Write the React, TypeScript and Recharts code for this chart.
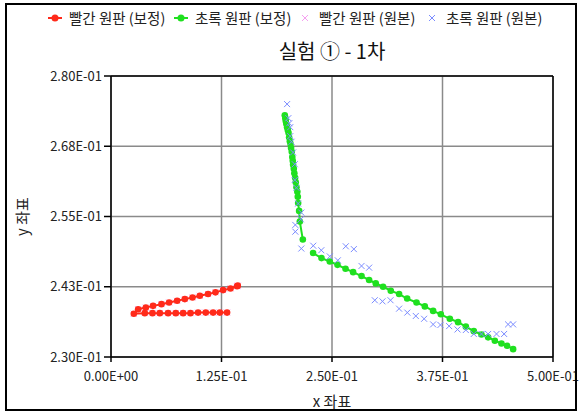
import React from 'react';
import { CartesianGrid, ReferenceLine, Scatter, ScatterChart, XAxis, YAxis } from 'recharts';

// 빨간 원판 (보정): lower row right->left, then upper row left->right
const redX = [0.1313, 0.1231, 0.1155, 0.1072, 0.0985, 0.0899, 0.0816, 0.0733, 0.0646, 0.0552, 0.0469, 0.0382, 0.0258,
  0.0307, 0.0394, 0.0476, 0.0571, 0.0657, 0.0748, 0.0835, 0.0922, 0.1005, 0.1098, 0.1182, 0.1268, 0.1352, 0.1426, 0.1434];
const redY = [0.2379, 0.2379, 0.2379, 0.2379, 0.2379, 0.2378, 0.2378, 0.2378, 0.2378, 0.2378, 0.2378, 0.2378, 0.2377,
  0.2385, 0.2388, 0.2391, 0.2394, 0.2397, 0.2400, 0.2403, 0.2406, 0.2409, 0.2412, 0.2415, 0.2419, 0.2422, 0.2426, 0.2427];

// 초록 원판 (보정): steep upper segment, then the long falling segment
const greenUpperX = [0.1966, 0.1972, 0.1977, 0.1983, 0.1992, 0.2000, 0.2008, 0.2015, 0.2023, 0.2031, 0.2037, 0.2045, 0.2051,
  0.2056, 0.2060, 0.2068, 0.2074, 0.2083, 0.2090, 0.2098, 0.2108, 0.2113, 0.2117, 0.2128, 0.2136, 0.2170];
const greenUpperY = [0.2730, 0.2725, 0.2720, 0.2715, 0.2709, 0.2704, 0.2699, 0.2691, 0.2684, 0.2679, 0.2672, 0.2665, 0.2656,
  0.2649, 0.2642, 0.2635, 0.2627, 0.2619, 0.2611, 0.2602, 0.2594, 0.2585, 0.2574, 0.2560, 0.2541, 0.2509];
const greenLowerX = [0.2286, 0.2381, 0.2475, 0.2562, 0.2653, 0.2739, 0.2834, 0.2920, 0.2995, 0.3078, 0.3165, 0.3259, 0.3350,
  0.3456, 0.3550, 0.3644, 0.3731, 0.3833, 0.3926, 0.4014, 0.4104, 0.4191, 0.4266, 0.4342, 0.4417, 0.4481, 0.4549];
const greenLowerY = [0.2485, 0.2476, 0.2470, 0.2464, 0.2457, 0.2451, 0.2444, 0.2437, 0.2431, 0.2425, 0.2418, 0.2412, 0.2404,
  0.2397, 0.2390, 0.2382, 0.2376, 0.2368, 0.2362, 0.2354, 0.2346, 0.2340, 0.2335, 0.2329, 0.2324, 0.2320, 0.2314];

// 빨간 원판 (원본): sits under the corrected red points
const pinkX = redX;
const pinkY = redY;

// 초록 원판 (원본)
const blueX = [0.1992, 0.2006, 0.2017, 0.2028, 0.2028, 0.2042, 0.2060, 0.2079, 0.2079, 0.2098, 0.2117, 0.2153, 0.2147, 0.2085,
  0.2085, 0.2153, 0.2288, 0.2379, 0.2475, 0.2566, 0.2656, 0.2747, 0.2834, 0.2920, 0.2984, 0.3071, 0.3162, 0.3259, 0.3352,
  0.3448, 0.3542, 0.3644, 0.3727, 0.3825, 0.3920, 0.4014, 0.4104, 0.4191, 0.4266, 0.4361, 0.4447, 0.4492, 0.4549];
const blueY = [0.2750, 0.2725, 0.2716, 0.2709, 0.2693, 0.2683, 0.2664, 0.2643, 0.2615, 0.2601, 0.2573, 0.2557, 0.2545, 0.2535,
  0.2523, 0.2493, 0.2498, 0.2490, 0.2479, 0.2472, 0.2497, 0.2492, 0.2462, 0.2459, 0.2401, 0.2399, 0.2401, 0.2386, 0.2379,
  0.2373, 0.2368, 0.2358, 0.2357, 0.2355, 0.2349, 0.2348, 0.2341, 0.2341, 0.2341, 0.2341, 0.2341, 0.2358, 0.2358];

const xTicks = [0, 0.125, 0.25, 0.375, 0.5];
const yTicks = [0.23, 0.2425, 0.255, 0.2675, 0.28];

const RED = '#ff2a1a';
const GREEN = '#1fe01f';
const PINK = '#f5a0f0';
const BLUE = '#7b8cff';
const FONT = "'Noto Sans CJK KR', 'Noto Sans', sans-serif";

const toPoints = (xs: number[], ys: number[]) => xs.map((x, i) => ({ x, y: ys[i] }));

// Excel-style 0.00E+00 labels
const sci = (v: number) => {
  if (v === 0) return '0.00E+00';
  const e = Math.floor(Math.log10(Math.abs(v)));
  const m = Math.round((v / Math.pow(10, e)) * 100 + 1e-9) / 100;
  return `${m.toFixed(2)}E${e < 0 ? '-' : '+'}${String(Math.abs(e)).padStart(2, '0')}`;
};

const dot = (color: string) => (props: any) => <circle cx={props.cx} cy={props.cy} r={3.3} fill={color} />;

const cross = (color: string) => (props: any) => {
  const { cx, cy } = props;
  return (
    <g stroke={color} strokeWidth={1}>
      <line x1={cx - 3} y1={cy - 3} x2={cx + 3} y2={cy + 3} />
      <line x1={cx - 3} y1={cy + 3} x2={cx + 3} y2={cy - 3} />
    </g>
  );
};

const legendItems = [
  { name: '빨간 원판 (보정)', color: RED, kind: 'dot', left: 47 },
  { name: '초록 원판 (보정)', color: GREEN, kind: 'dot', left: 173 },
  { name: '빨간 원판 (원본)', color: PINK, kind: 'cross', left: 297 },
  { name: '초록 원판 (원본)', color: BLUE, kind: 'cross', left: 424 },
];

function ChartLegend() {
  return (
    <div style={{ position: 'absolute', left: 0, top: 7, width: 581, height: 20, fontFamily: FONT, fontSize: 14.5, color: '#222' }}>
      {legendItems.map((it) => (
        <div key={it.name} style={{ position: 'absolute', left: it.left, top: 0, display: 'flex', alignItems: 'center', whiteSpace: 'nowrap' }}>
          <svg width={16} height={16}>
            {it.kind === 'dot' ? (
              <g>
                <line x1={1} y1={8} x2={15} y2={8} stroke={it.color} strokeWidth={2} />
                <circle cx={8} cy={8} r={3.5} fill={it.color} />
              </g>
            ) : (
              <g stroke={it.color} strokeWidth={1}>
                <line x1={5} y1={5} x2={11} y2={11} />
                <line x1={5} y1={11} x2={11} y2={5} />
              </g>
            )}
          </svg>
          <span style={{ marginLeft: 6 }}>{it.name}</span>
        </div>
      ))}
    </div>
  );
}

export default function App() {
  const tickStyle = { fontFamily: FONT, fontSize: 13, fill: '#222' };
  return (
    <div style={{ position: 'absolute', left: 0, top: 0, width: 581, height: 416, background: '#fff' }}>
      <ScatterChart width={581} height={416} margin={{ top: 76, right: 28, bottom: 0, left: 0 }}>
        <CartesianGrid stroke="#8a8a8a" strokeWidth={1.5} horizontalValues={yTicks} verticalValues={xTicks} />
        <XAxis
          type="number"
          dataKey="x"
          domain={[0, 0.5]}
          ticks={xTicks}
          tickFormatter={sci}
          tick={tickStyle}
          stroke="#000"
          strokeWidth={1.5}
          tickSize={5}
          tickMargin={10}
          height={59}
          label={{ value: 'x 좌표', position: 'insideBottom', offset: 9, style: { fontFamily: FONT, fontSize: 15, fill: '#222' } }}
        />
        <YAxis
          type="number"
          dataKey="y"
          domain={[0.23, 0.28]}
          ticks={yTicks}
          tickFormatter={sci}
          tick={tickStyle}
          stroke="#000"
          strokeWidth={1.5}
          tickSize={7}
          width={111}
          label={{
            content: (p: any) => {
              const vb = p.viewBox || { x: 0, y: 76, height: 281 };
              const cx = vb.x + 21;
              const cy = vb.y + vb.height / 2;
              return (
                <text x={cx} y={cy} transform={`rotate(-90 ${cx} ${cy})`} textAnchor="middle" dominantBaseline="central"
                  style={{ fontFamily: FONT, fontSize: 15, fill: '#222' }}>
                  y 좌표
                </text>
              );
            },
          }}
        />
        <ReferenceLine y={0.28} stroke="#000" strokeWidth={1.5} />
        <ReferenceLine x={0.5} stroke="#000" strokeWidth={1.5} />
        <Scatter name="빨간 원판 (원본)" data={toPoints(pinkX, pinkY)} shape={cross(PINK)} isAnimationActive={false} />
        <Scatter name="빨간 원판 (보정)" data={toPoints(redX, redY)} shape={dot(RED)} line={{ stroke: RED, strokeWidth: 2 }}
          lineType="joint" isAnimationActive={false} />
        <Scatter name="초록 원판 (보정)" data={toPoints(greenUpperX, greenUpperY)} shape={dot(GREEN)}
          line={{ stroke: GREEN, strokeWidth: 2 }} lineType="joint" isAnimationActive={false} />
        <Scatter name="초록 원판 (보정) 2" legendType="none" data={toPoints(greenLowerX, greenLowerY)} shape={dot(GREEN)}
          line={{ stroke: GREEN, strokeWidth: 2 }} lineType="joint" isAnimationActive={false} />
        <Scatter name="초록 원판 (원본)" data={toPoints(blueX, blueY)} shape={cross(BLUE)} isAnimationActive={false} />
      </ScatterChart>
      <ChartLegend />
      <div style={{ position: 'absolute', left: 0, width: 664, top: 36, textAlign: 'center', fontFamily: FONT, fontSize: 20, color: '#111' }}>
        실험 ① - 1차
      </div>
      <div style={{ position: 'absolute', left: 5, top: 3, width: 568, height: 404, border: '2.5px solid #000', pointerEvents: 'none' }} />
    </div>
  );
}
